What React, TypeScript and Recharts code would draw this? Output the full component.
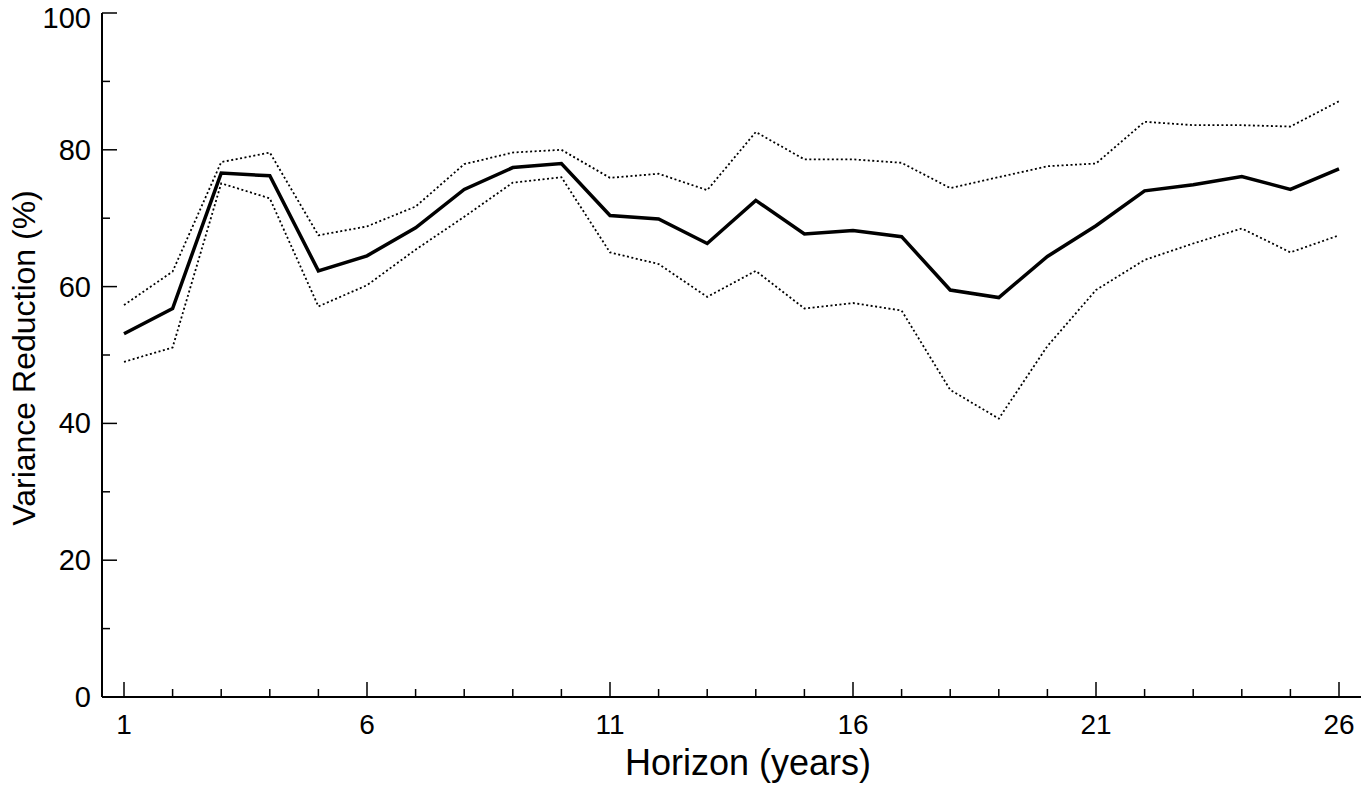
import { LineChart, Line, XAxis, YAxis, Label } from "recharts"

const horizons = [1, 2, 3, 4, 5, 6, 7, 8, 9, 10, 11, 12, 13, 14, 15, 16, 17, 18, 19, 20, 21, 22, 23, 24, 25, 26]
const central = [53.1, 56.8, 76.6, 76.2, 62.3, 64.5, 68.6, 74.2, 77.4, 78.0, 70.4, 69.9, 66.3, 72.6, 67.7, 68.2, 67.3, 59.5, 58.4, 64.4, 68.9, 74.0, 74.9, 76.1, 74.2, 77.2]
const upper = [57.3, 62.2, 78.2, 79.6, 67.5, 68.8, 71.7, 77.9, 79.6, 80.0, 75.9, 76.5, 74.1, 82.6, 78.6, 78.6, 78.1, 74.4, 76.0, 77.6, 78.0, 84.1, 83.6, 83.6, 83.4, 87.1]
const lower = [49.0, 51.1, 75.1, 72.9, 57.1, 60.2, 65.4, 70.2, 75.2, 76.0, 65.0, 63.3, 58.5, 62.3, 56.8, 57.6, 56.5, 44.9, 40.7, 51.3, 59.5, 63.9, 66.3, 68.5, 65.0, 67.5]

const yTicks = [0, 10, 20, 30, 40, 50, 60, 70, 80, 90, 100]
const xLabelled = [1, 6, 11, 16, 21, 26]

const data = horizons.map((h, i) => ({ horizon: h, central: central[i], upper: upper[i], lower: lower[i] }))

const font = "'Liberation Sans', Arial, Helvetica, sans-serif"

function YTick(props: any) {
    const { x, y, payload } = props
    const major = payload.value % 20 === 0
    const len = major ? 15 : 8
    return (
        <g>
            <line x1={x} x2={x + len} y1={y} y2={y} stroke="#000" strokeWidth={1.5} />
            {major && (
                <text x={x - 11} y={y + (payload.value === 100 ? 5 : 0)} dy={10} textAnchor="end"
                    fontSize={29} fontFamily={font} fill="#000">
                    {payload.value}
                </text>
            )}
        </g>
    )
}

function XTick(props: any) {
    const { x, y, payload } = props
    const major = xLabelled.includes(payload.value)
    const len = major ? 15 : 8
    return (
        <g>
            <line x1={x} x2={x} y1={y} y2={y - len} stroke="#000" strokeWidth={1.5} />
            {major && (
                <text x={x} y={y + 37} textAnchor="middle" fontSize={28} fontFamily={font} fill="#000">
                    {payload.value}
                </text>
            )}
        </g>
    )
}

export default function App() {
    return (
        <div style={{ position: "absolute", left: 0, top: 0, background: "#fff" }}>
            <LineChart width={1368} height={787} data={data}
                margin={{ top: 13, right: 7, bottom: 10, left: 2 }}>
                <XAxis dataKey="horizon" type="number" domain={[1, 26]} ticks={horizons} interval={0}
                    padding={{ left: 22, right: 22 }} height={80} tickSize={0} tickMargin={0}
                    tickLine={false} axisLine={{ stroke: "#000", strokeWidth: 2 }} tick={<XTick />}>
                    <Label content={() => (
                        <text x={748} y={775} textAnchor="middle" fontSize={36} fontFamily={font} fill="#000">
                            Horizon (years)
                        </text>
                    )} />
                </XAxis>
                <XAxis xAxisId="top" orientation="top" type="number" domain={[1, 26]} height={0}
                    tick={false} tickLine={false} axisLine={{ stroke: "#000", strokeWidth: 2 }} />
                <YAxis domain={[0, 100]} ticks={yTicks} interval={0} width={100} tickSize={0} tickMargin={0}
                    tickLine={false} axisLine={{ stroke: "#000", strokeWidth: 2 }} tick={<YTick />}>
                    <Label content={() => (
                        <text x={35} y={358} transform="rotate(-90 35 358)" textAnchor="middle"
                            fontSize={32} fontFamily={font} fill="#000">
                            Variance Reduction (%)
                        </text>
                    )} />
                </YAxis>
                <YAxis yAxisId="right" orientation="right" domain={[0, 100]} width={0}
                    tick={false} tickLine={false} axisLine={{ stroke: "#000", strokeWidth: 2 }} />
                <Line dataKey="upper" stroke="#000" strokeWidth={1.8} strokeDasharray="2 2.5"
                    dot={false} activeDot={false} isAnimationActive={false} />
                <Line dataKey="lower" stroke="#000" strokeWidth={1.8} strokeDasharray="2 2.5"
                    dot={false} activeDot={false} isAnimationActive={false} />
                <Line dataKey="central" stroke="#000" strokeWidth={3.5}
                    dot={false} activeDot={false} isAnimationActive={false} />
            </LineChart>
        </div>
    )
}
